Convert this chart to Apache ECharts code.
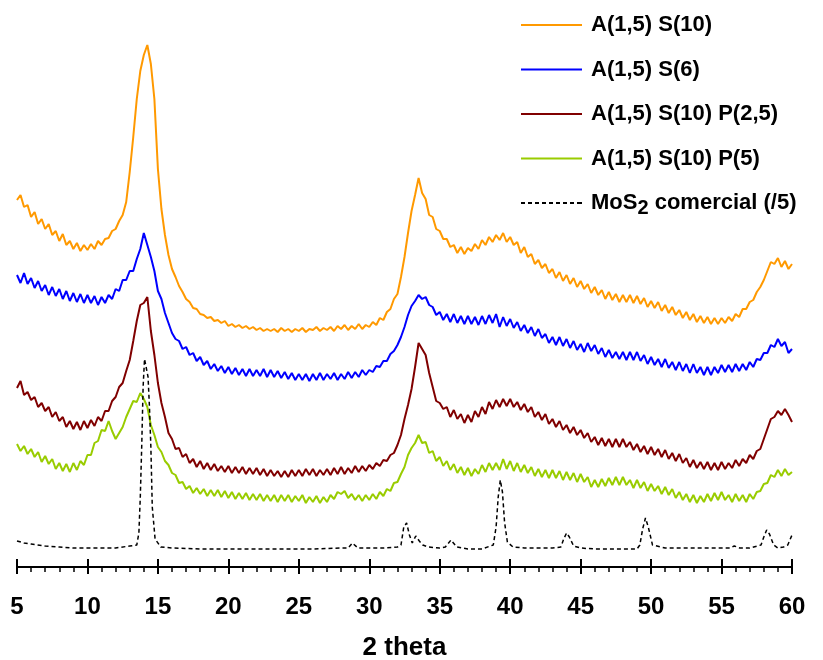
<!DOCTYPE html>
<html>
<head>
<meta charset="utf-8">
<script src="https://cdn.jsdelivr.net/npm/echarts@6/dist/echarts.min.js"></script>
<style>html,body{margin:0;padding:0;background:#fff}#c{width:823px;height:660px}</style>
</head>
<body>
<div id="c"></div>
<script>
// 2 theta sample positions (degrees)
const theta = [
5,5.25,5.5,5.75, 6,6.25,6.5,6.75, 7,7.25,7.5,7.75, 8,8.25,8.5,8.75, 9,9.25,9.5,9.75,
10,10.25,10.5,10.75, 11,11.25,11.5,11.75, 12,12.25,12.5,12.75, 13,13.25,13.5,13.75, 14,14.25,14.5,14.75,
15,15.25,15.5,15.75, 16,16.25,16.5,16.75, 17,17.25,17.5,17.75, 18,18.25,18.5,18.75, 19,19.25,19.5,19.75,
20,20.25,20.5,20.75, 21,21.25,21.5,21.75, 22,22.25,22.5,22.75, 23,23.25,23.5,23.75, 24,24.25,24.5,24.75,
25,25.25,25.5,25.75, 26,26.25,26.5,26.75, 27,27.25,27.5,27.75, 28,28.25,28.5,28.75, 29,29.25,29.5,29.75,
30,30.25,30.5,30.75, 31,31.25,31.5,31.75, 32,32.25,32.5,32.75, 33,33.25,33.5,33.75, 34,34.25,34.5,34.75,
35,35.25,35.5,35.75, 36,36.25,36.5,36.75, 37,37.25,37.5,37.75, 38,38.25,38.5,38.75, 39,39.25,39.5,39.75,
40,40.25,40.5,40.75, 41,41.25,41.5,41.75, 42,42.25,42.5,42.75, 43,43.25,43.5,43.75, 44,44.25,44.5,44.75,
45,45.25,45.5,45.75, 46,46.25,46.5,46.75, 47,47.25,47.5,47.75, 48,48.25,48.5,48.75, 49,49.25,49.5,49.75,
50,50.25,50.5,50.75, 51,51.25,51.5,51.75, 52,52.25,52.5,52.75, 53,53.25,53.5,53.75, 54,54.25,54.5,54.75,
55,55.25,55.5,55.75, 56,56.25,56.5,56.75, 57,57.25,57.5,57.75, 58,58.25,58.5,58.75, 59,59.25,59.5,59.75,
60];

// A(1,5) S(10) – orange (arbitrary offset intensity)
const s10 = [
367,372,360,362, 350,355,343,348, 338,343,332,336, 326,333,322,326, 318,324,316,322,
317,323,318,326, 322,328,329,336, 338,346,352,365, 395,430,468,496, 512,522,503,468,
398,358,332,312, 298,290,281,275, 268,265,259,258, 253,252,249,250, 246,247,244,246,
241,243,240,242, 239,241,238,240, 237,239,236,238, 236,238,235,239, 236,238,235,238,
236,239,235,238, 237,240,236,239, 237,240,236,241, 238,242,237,241, 238,243,238,242,
240,245,242,249, 247,255,258,268, 273,290,310,334, 356,372,389,374, 368,352,350,338,
336,328,328,320, 322,314,320,313, 319,316,323,318, 327,322,330,325, 332,327,334,325,
330,322,325,314, 320,310,313,303, 307,299,303,294, 298,289,295,286, 292,283,289,280,
286,278,283,274, 280,272,277,268, 275,267,273,265, 272,265,272,264, 271,263,269,260,
266,259,265,256, 262,254,260,252, 257,249,255,247, 253,245,251,244, 250,243,249,243,
249,244,250,246, 253,250,258,258, 265,267,275,280, 287,296,305,303, 309,300,306,298,
303];

// A(1,5) S(6) – blue
const s6 = [
292,284,294,283, 289,279,286,276, 282,272,280,271, 278,268,276,266, 274,265,273,264,
272,264,271,262, 270,264,272,268, 278,276,287,287, 296,296,308,318, 334,322,310,296,
276,268,254,244, 234,228,226,218, 220,212,214,206, 210,202,206,198, 203,196,201,194,
200,193,199,192, 198,191,198,191, 197,191,198,190, 197,190,196,189, 195,188,194,187,
193,187,193,186, 193,187,194,187, 193,188,194,187, 193,188,195,189, 195,190,197,192,
197,195,201,200, 206,206,213,216, 222,230,240,252, 261,266,272,268, 270,262,260,252,
255,247,253,245, 253,244,251,243, 251,243,250,242, 251,243,252,244, 253,240,250,241,
248,239,245,236, 242,234,240,231, 238,229,233,224, 230,222,230,221, 228,219,226,217,
223,215,224,216, 222,213,219,210, 217,209,215,208, 215,207,215,207, 215,206,212,203,
210,202,208,200, 208,199,205,197, 205,196,203,194, 203,194,200,192, 200,192,200,194,
202,195,202,195, 203,196,203,197, 205,200,208,207, 214,214,222,220, 228,221,225,214,
218];

// A(1,5) S(10) P(2,5) – dark red
const s10p25 = [
179,186,172,175, 167,170,160,164, 156,160,150,155, 146,150,140,146, 138,145,137,146,
139,147,141,150, 146,156,156,166, 170,180,184,196, 207,226,246,262, 264,270,236,212,
184,164,150,134, 128,118,119,110, 113,104,108,100, 106,98,104,97, 103,96,101,95,
101,94,100,94, 100,93,99,93, 99,92,98,91, 97,91,96,90, 96,90,97,91,
97,91,98,92, 98,91,97,92, 98,92,99,93, 100,93,99,94, 101,95,101,96,
102,98,104,101, 107,106,112,114, 122,132,148,162, 178,200,224,218, 212,194,180,166,
164,158,160,150, 157,148,153,144, 152,145,156,150, 160,153,165,158, 167,160,168,161,
168,160,165,157, 163,155,160,150, 155,147,153,143, 148,140,146,137, 142,134,140,132,
137,129,134,125, 130,122,129,121, 128,120,128,120, 128,120,125,117, 123,115,121,113,
120,112,118,110, 117,108,114,106, 113,104,109,100, 107,99,105,98, 105,97,104,97,
105,98,104,99, 107,101,108,104, 112,108,116,118, 128,138,148,150, 156,152,158,152,
145];

// A(1,5) S(10) P(5) – green
const s10p5 = [
123,116,121,113, 118,110,115,105, 111,103,108,98, 104,96,103,95, 104,97,106,102,
112,112,124,126, 137,136,146,136, 128,134,140,150, 158,166,165,174, 168,160,142,132,
120,115,106,102, 94,92,84,85, 78,81,74,79, 73,78,71,77, 71,77,70,76,
69,75,68,74, 68,74,67,73, 67,73,66,72, 66,72,65,72, 66,72,65,71,
66,72,64,70, 65,71,64,70, 65,72,68,75, 73,76,69,73, 67,72,66,72,
67,73,68,75, 71,78,76,84, 85,93,100,112, 119,124,132,124, 125,114,116,106,
110,101,106,97, 103,94,100,92, 99,91,98,93, 102,95,104,97, 104,97,108,98,
106,96,104,95, 102,94,100,91, 98,90,97,89, 97,89,96,87, 95,87,94,85,
93,85,90,80, 87,80,88,81, 89,82,90,82, 90,82,87,79, 87,79,85,76,
83,76,81,73, 80,72,78,69, 75,67,73,65, 72,64,71,65, 73,66,74,67,
75,67,72,65, 73,66,72,65, 73,68,75,76, 83,84,92,90, 97,91,98,92,
95];

// MoS2 comercial (/5) – black dotted, own sampling positions
const mosTheta = [5,5.5,6,7,8,9,10,11,12,13,13.5,13.65,13.75,13.85,13.95,14.05,14.15,14.3,14.4,14.5,14.6,14.8,15.2,16,
18,20,22,24,26,28,28.5,28.8,29.2,30,31,32,32.25,32.45,32.65,32.85,33.05,33.3,33.55,33.8,34.2,35,35.4,35.8,36.2,
37,38,38.8,39.0,39.15,39.3,39.45,39.6,39.8,40.2,41,42,43,43.6,43.8,44.0,44.2,44.5,45,46,47,48,49,49.2,49.4,49.6,
49.8,50.1,51,52,53,54,55,55.6,55.9,56.3,57,57.8,58.0,58.2,58.4,58.7,59.0,59.4,59.7,60];
const mos = [26,24,23,21,20,19,19,19,19,21,22,34,70,120,180,208,210,190,160,120,60,28,20,19,
18,18,18,18,18,19,19,24,19,19,19,20,22,40,44,32,24,31,26,22,20,19,20,27,20,
18,18,22,40,70,87,75,45,25,20,19,19,19,20,28,34,30,21,19,18,18,18,18,22,38,49,
40,22,19,19,19,19,19,19,21,19,19,22,30,37,33,22,19,20,22,32];

const names = ['A(1,5) S(10)','A(1,5) S(6)','A(1,5) S(10) P(2,5)','A(1,5) S(10) P(5)','MoS2 comercial (/5)'];
const colors = ['#FF9900','#0000FF','#800000','#99CC00','#000000'];
const curves = [s10, s6, s10p25, s10p5];

const font = "'Liberation Sans', Arial, sans-serif";
const series = curves.map((vals, k) => ({
  name: names[k], type: 'line', symbol: 'none', showSymbol: false,
  data: theta.map((t, i) => [t, vals[i]]),
  lineStyle: { color: colors[k], width: 2 }, itemStyle: { color: colors[k] },
  animation: false, z: 2 + k
}));
series.push({
  name: names[4], type: 'line', symbol: 'none', showSymbol: false,
  data: mosTheta.map((t, i) => [t, mos[i]]),
  lineStyle: { color: '#000', width: 1.5, type: [4, 3] }, itemStyle: { color: '#000' },
  animation: false, z: 10
});

const dashIcon = 'path://M0,0h4v2h-4z M7,0h4v2h-4z M14,0h4v2h-4z M21,0h4v2h-4z M28,0h4v2h-4z M35,0h4v2h-4z M42,0h4v2h-4z M49,0h4v2h-4z M56,0h5v2h-5z';
const legendData = names.map((n, k) => ({ name: n, icon: k < 4 ? 'rect' : dashIcon }));

const chart = echarts.init(document.getElementById('c'), null, { renderer: 'canvas' });
chart.setOption({
  backgroundColor: '#fff',
  animation: false,
  grid: { left: 17, right: 31, top: 30, bottom: 93, containLabel: false, outerBoundsMode: 'none' },
  legend: {
    data: legendData, orient: 'vertical', left: 521, top: 10, padding: 0,
    itemWidth: 61, itemHeight: 2, itemGap: 14.5,
    textStyle: {
      fontFamily: font, fontSize: 22, fontWeight: 'bold', color: '#000', lineHeight: 30,
      padding: [0, 0, 0, 4],
      rich: {
        a: { fontFamily: font, fontSize: 22, fontWeight: 'bold', color: '#000', lineHeight: 30 },
        s: { fontFamily: font, fontSize: 20, fontWeight: 'bold', color: '#000', lineHeight: 18, verticalAlign: 'bottom' }
      }
    },
    formatter: function (n) {
      if (n.indexOf('MoS2') === 0) return '{a|MoS}{s|2}{a| comercial (/5)}';
      return '{a|' + n + '}';
    }
  },
  xAxis: [{
    type: 'value', min: 5, max: 60, interval: 5, position: 'bottom',
    name: '2 theta', nameLocation: 'middle', nameGap: 68,
    nameTextStyle: { fontFamily: font, fontSize: 26, fontWeight: 'bold', color: '#000' },
    axisLine: { show: true, onZero: false, lineStyle: { color: '#000', width: 2 } },
    axisTick: { show: true, inside: false, length: 7, lineStyle: { color: '#000', width: 2 } },
    minorTick: { show: true, splitNumber: 5, length: 5, lineStyle: { color: '#000', width: 1.5 } },
    axisLabel: { fontFamily: font, fontSize: 24, fontWeight: 'bold', color: '#000', margin: 28 },
    splitLine: { show: false }, minorSplitLine: { show: false }
  }, {
    type: 'value', min: 5, max: 60, interval: 5, position: 'bottom',
    axisLine: { show: false, onZero: false },
    axisTick: { show: true, inside: true, length: 8, lineStyle: { color: '#000', width: 2 } },
    axisLabel: { show: false }, splitLine: { show: false }
  }],
  yAxis: { type: 'value', min: 0, max: 537, show: false, splitLine: { show: false } },
  series: series
});
</script>
</body>
</html>
